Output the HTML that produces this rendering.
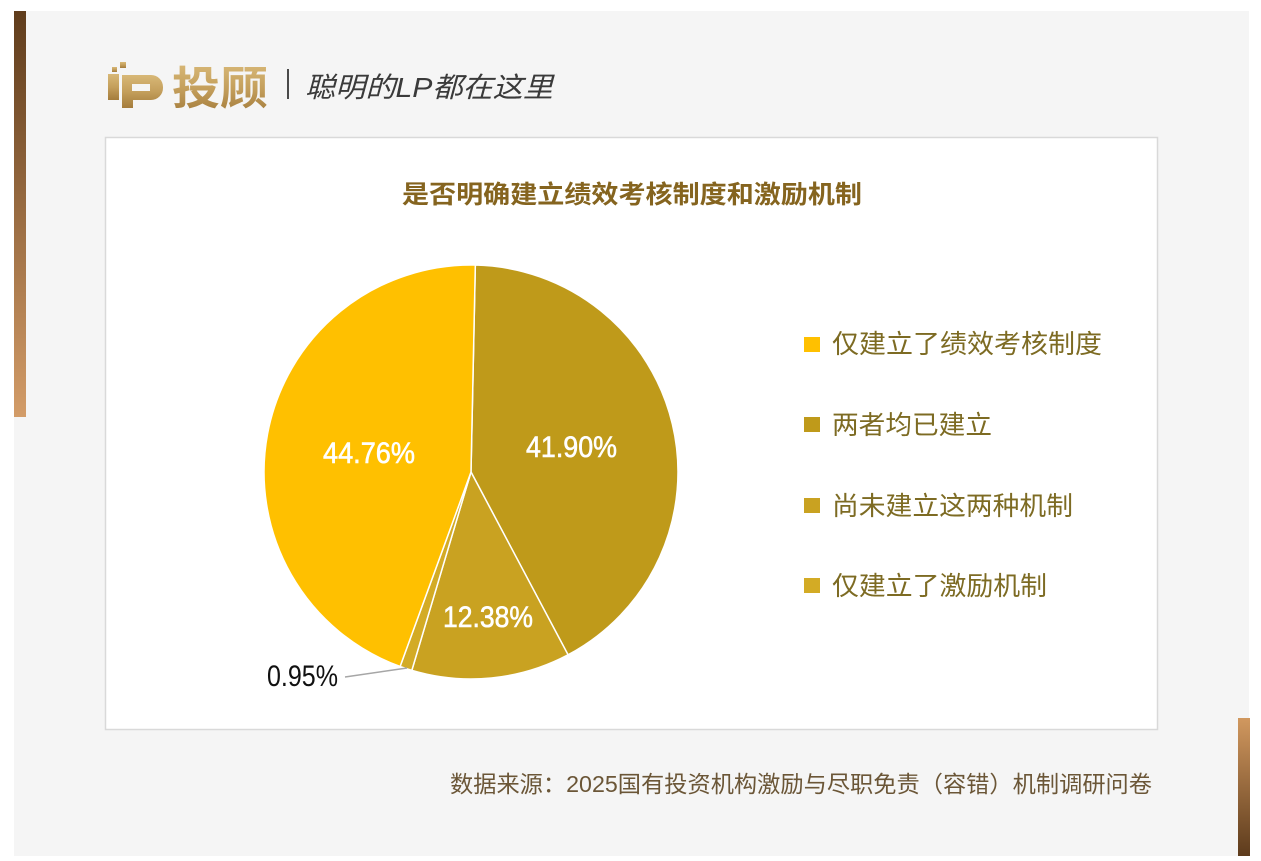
<!DOCTYPE html>
<html>
<head>
<meta charset="utf-8">
<style>
  html,body{margin:0;padding:0;background:#ffffff;}
  body{width:1261px;height:861px;overflow:hidden;}
  svg{display:block;}
  .cjk{font-family:"Liberation Sans","Noto Sans CJK SC",sans-serif;}
</style>
</head>
<body>
<svg width="1261" height="861" viewBox="0 0 1261 861" xmlns="http://www.w3.org/2000/svg">
  <defs>
    <linearGradient id="lbar" x1="0" y1="0" x2="0" y2="1">
      <stop offset="0" stop-color="#5f3c1c"/>
      <stop offset="1" stop-color="#d39c68"/>
    </linearGradient>
    <linearGradient id="rbar" x1="0" y1="0" x2="0" y2="1">
      <stop offset="0" stop-color="#d1985f"/>
      <stop offset="1" stop-color="#5d3b1c"/>
    </linearGradient>
    <linearGradient id="gold" x1="0" y1="0" x2="0" y2="1">
      <stop offset="0" stop-color="#d8b877"/>
      <stop offset="0.5" stop-color="#c49f5c"/>
      <stop offset="1" stop-color="#a47c3c"/>
    </linearGradient>
  </defs>

  <!-- panel -->
  <rect x="14" y="11" width="1235" height="845" fill="#f5f5f5"/>
  <rect x="14" y="11" width="12" height="406" fill="url(#lbar)"/>
  <rect x="1238" y="718" width="12" height="138" fill="url(#rbar)"/>

  <!-- logo -->
  <g fill="url(#gold)">
    <rect x="120" y="62" width="6" height="6"/>
    <rect x="112" y="67" width="5" height="5"/>
    <rect x="108" y="74" width="11" height="26"/>
    <path d="M122,75 L151,75 A12,12 0 0 1 163,87 L163,88 A12,12 0 0 1 151,100 L133,100 L133,108 L122,108 Z M132,84 L132,91 L150,91 L150,84 Z" fill-rule="evenodd"/>
  </g>
  <text x="172" y="104" class="cjk" font-size="45" font-weight="bold" fill="url(#gold)" textLength="96" lengthAdjust="spacingAndGlyphs">投顾</text>
  <line x1="288" y1="69" x2="288" y2="99" stroke="#4a4a4a" stroke-width="2"/>
  <text x="305" y="97" class="cjk" font-size="28" font-style="italic" fill="#3a3a3a" textLength="248" lengthAdjust="spacingAndGlyphs">聪明的LP都在这里</text>

  <!-- chart box -->
  <rect x="105.5" y="137.5" width="1052" height="592" fill="#ffffff" stroke="#d9d9d9" stroke-width="1.5"/>

  <!-- title -->
  <text x="402" y="203" class="cjk" font-size="25" font-weight="bold" fill="#85641f" textLength="460" lengthAdjust="spacingAndGlyphs">是否明确建立绩效考核制度和激励机制</text>

  <!-- pie -->
  <g stroke="#ffffff" stroke-width="1.5" stroke-linejoin="round">
    <path d="M471,472 L475.33,265.05 A207,207 0 0 1 568.06,654.83 Z" fill="#bf9a1a"/>
    <path d="M471,472 L568.06,654.83 A207,207 0 0 1 411.82,670.37 Z" fill="#c9a221"/>
    <path d="M471,472 L411.82,670.37 A207,207 0 0 1 400.10,666.48 Z" fill="#d3ab25"/>
    <path d="M471,472 L400.10,666.48 A207,207 0 0 1 475.33,265.05 Z" fill="#ffc000"/>
  </g>

  <!-- data labels -->
  <g font-family="'Liberation Sans', sans-serif" font-size="30" fill="#ffffff" stroke="#ffffff" stroke-width="0.6">
    <text x="323" y="463" textLength="92" lengthAdjust="spacingAndGlyphs">44.76%</text>
    <text x="526" y="457" textLength="91" lengthAdjust="spacingAndGlyphs">41.90%</text>
    <text x="443" y="627" textLength="90" lengthAdjust="spacingAndGlyphs">12.38%</text>
  </g>
  <text x="267" y="686" font-family="'Liberation Sans', sans-serif" font-size="30" fill="#111111" textLength="71" lengthAdjust="spacingAndGlyphs">0.95%</text>
  <line x1="345" y1="677" x2="407" y2="668" stroke="#a6a6a6" stroke-width="1.5"/>

  <!-- legend -->
  <rect x="804" y="337" width="16" height="15" fill="#ffc000"/>
  <rect x="804" y="417" width="16" height="15" fill="#bf9a1a"/>
  <rect x="804" y="498" width="16" height="15" fill="#c9a221"/>
  <rect x="804" y="578" width="16" height="15" fill="#d3ab25"/>
  <g class="cjk" font-size="26" fill="#7d6b23">
    <text x="832" y="353" textLength="270" lengthAdjust="spacingAndGlyphs">仅建立了绩效考核制度</text>
    <text x="832" y="434" textLength="160" lengthAdjust="spacingAndGlyphs">两者均已建立</text>
    <text x="832" y="515" textLength="241" lengthAdjust="spacingAndGlyphs">尚未建立这两种机制</text>
    <text x="832" y="595" textLength="215" lengthAdjust="spacingAndGlyphs">仅建立了激励机制</text>
  </g>

  <!-- source -->
  <text x="450" y="792" class="cjk" font-size="23" fill="#6b5637" textLength="702" lengthAdjust="spacingAndGlyphs">数据来源：2025国有投资机构激励与尽职免责（容错）机制调研问卷</text>
</svg>
</body>
</html>
